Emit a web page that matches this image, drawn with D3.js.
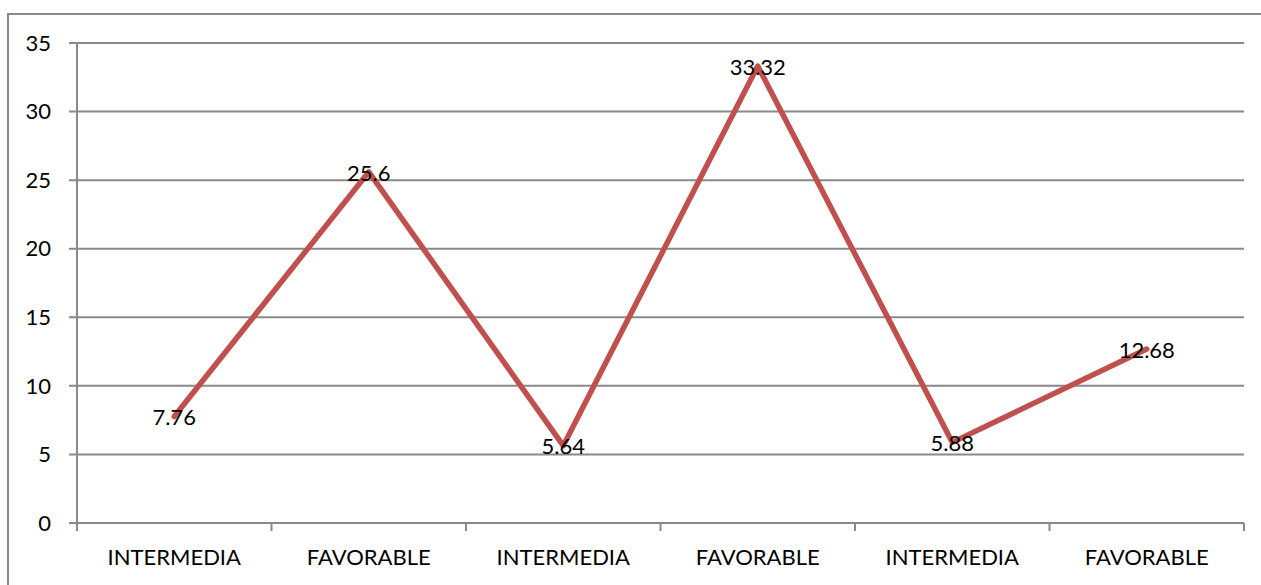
<!DOCTYPE html>
<html>
<head>
<meta charset="utf-8">
<script src="https://cdn.jsdelivr.net/npm/d3@7"></script>
<style>
  html, body { margin: 0; padding: 0; background: #fff; }
  svg { display: block; font-family: Lato, "Open Sans", sans-serif; }
</style>
</head>
<body>
<svg id="chart" width="1261" height="585"></svg>
<script>
// data
const categories = ['INTERMEDIA', 'FAVORABLE', 'INTERMEDIA', 'FAVORABLE', 'INTERMEDIA', 'FAVORABLE'];
const values = [7.76, 25.6, 5.64, 33.32, 5.88, 12.68];
const valueLabels = ['7.76', '25.6', '5.64', '33.32', '5.88', '12.68'];
const yTicks = [0, 5, 10, 15, 20, 25, 30, 35];

const svg = d3.select('#chart');
const W = 1261, H = 585;
const m = { left: 77, right: 17, top: 43, bottom: 62 };
const GRID = '#898989';

// outer frame
svg.append('rect')
  .attr('x', 8).attr('y', 14)
  .attr('width', W).attr('height', H)
  .attr('fill', 'none').attr('stroke', GRID).attr('stroke-width', 2);

const idx = d3.range(categories.length);
const x = d3.scaleBand().domain(idx).range([m.left, W - m.right]);
const y = d3.scaleLinear().domain([0, 35]).range([H - m.bottom, m.top]);

// horizontal gridlines + tick stubs
svg.append('g').selectAll('line').data(yTicks).join('line')
  .attr('x1', m.left - 8).attr('x2', W - m.right)
  .attr('y1', d => y(d)).attr('y2', d => y(d))
  .attr('stroke', GRID).attr('stroke-width', 2);

// y axis line
svg.append('line')
  .attr('x1', m.left).attr('x2', m.left)
  .attr('y1', m.top).attr('y2', y(0) + 8)
  .attr('stroke', GRID).attr('stroke-width', 2);

// category tick marks on the band boundaries
const bounds = idx.map(i => x(i)).concat([W - m.right]);
svg.append('g').selectAll('line').data(bounds.slice(1)).join('line')
  .attr('x1', d => d).attr('x2', d => d)
  .attr('y1', y(0)).attr('y2', y(0) + 8)
  .attr('stroke', GRID).attr('stroke-width', 2);

// y labels
svg.append('g').selectAll('text').data(yTicks).join('text')
  .attr('x', 51).attr('y', d => y(d))
  .attr('dy', '0.35em')
  .attr('text-anchor', 'end')
  .attr('font-size', 22)
  .text(d => d);

// x labels
svg.append('g').selectAll('text').data(idx).join('text')
  .attr('x', i => x(i) + x.bandwidth() / 2)
  .attr('y', 557)
  .attr('dy', '0.35em')
  .attr('text-anchor', 'middle')
  .attr('font-size', 22)
  .text(i => categories[i]);

// series line
const line = d3.line()
  .x((d, i) => x(i) + x.bandwidth() / 2)
  .y(d => y(d));
svg.append('path')
  .datum(values)
  .attr('d', line)
  .attr('fill', 'none')
  .attr('stroke', '#C0504D')
  .attr('stroke-width', 5.5)
  .attr('stroke-linejoin', 'round')
  .attr('stroke-linecap', 'round');

// data labels centred on the points
svg.append('g').selectAll('text').data(values).join('text')
  .attr('x', (d, i) => x(i) + x.bandwidth() / 2)
  .attr('y', d => y(d) + 1)
  .attr('dy', '0.35em')
  .attr('text-anchor', 'middle')
  .attr('font-size', 22)
  .attr('fill', '#000')
  .text((d, i) => valueLabels[i]);
</script>
</body>
</html>
